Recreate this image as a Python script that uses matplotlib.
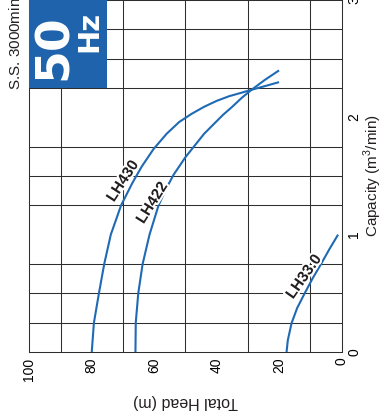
import matplotlib
matplotlib.use("Agg")
import matplotlib.pyplot as plt
import matplotlib.patheffects as pe
from matplotlib.patches import Rectangle
import numpy as np

plt.rcParams['font.family'] = ['Liberation Sans', 'DejaVu Sans']
plt.rcParams['mathtext.fontset'] = 'custom'
plt.rcParams['mathtext.rm'] = 'Liberation Sans'

# ---- data (head in m, capacity in m3/min) ----
lh430_head = [80.0, 79.3, 77.7, 76.0, 73.9, 70.6, 67.0, 64.0, 60.2, 56.0, 52.0, 48.0, 44.0, 40.0, 36.0, 32.0, 28.8, 24.0, 20.0]
lh430_cap  = [0.00, 0.25, 0.50, 0.75, 1.00, 1.25, 1.44, 1.58, 1.73, 1.86, 1.96, 2.03, 2.09, 2.14, 2.18, 2.21, 2.235, 2.27, 2.30]
lh422_head = [66.0, 65.9, 65.1, 63.7, 61.5, 58.6, 56.0, 53.8, 50.0, 47.0, 44.0, 41.0, 38.0, 35.0, 32.0, 28.8, 24.5, 20.0]
lh422_cap  = [0.00, 0.25, 0.50, 0.75, 1.00, 1.25, 1.40, 1.51, 1.66, 1.76, 1.86, 1.94, 2.02, 2.09, 2.165, 2.235, 2.32, 2.40]
lh33_head  = [17.6, 17.2, 16.0, 14.2, 11.8, 9.2, 6.4, 3.8, 1.1]
lh33_cap   = [0.00, 0.10, 0.245, 0.375, 0.50, 0.63, 0.757, 0.88, 1.00]

head_ticks = [100, 80, 60, 40, 20, 0]
cap_ticks = [0, 1, 2, 3]
curve_names = ["LH430", "LH422", "LH33.0"]

W, H = 381, 417
fig = plt.figure(figsize=(W / 100, H / 100), dpi=100)
ax = fig.add_axes([29.3 / W, 65 / H, (341.5 - 29.3) / W, 352 / H])

ax.set_xlim(100, 0)
ax.set_ylim(0, 3)

gridc = '#2e2e2e'
ax.set_xticks(np.arange(0, 101, 10), minor=True)
ax.set_yticks(np.arange(0, 3.01, 0.25), minor=True)
ax.grid(which='minor', color=gridc, linewidth=0.75)
ax.set_xticks(head_ticks)
ax.set_xticklabels([str(v) for v in head_ticks], rotation=90, fontsize=10)
ax.set_yticks(cap_ticks)
ax.set_yticklabels([str(v) for v in cap_ticks], rotation=90, fontsize=10, va='center')
ax.yaxis.tick_right()
ax.tick_params(which='both', length=0)
ax.tick_params(axis='x', pad=4)
ax.tick_params(axis='y', pad=4)
for s in ax.spines.values():
    s.set_color(gridc)
    s.set_linewidth(0.75)

blue = '#1f6ab4'
for hx, cy in [(lh430_head, lh430_cap), (lh422_head, lh422_cap), (lh33_head, lh33_cap)]:
    ax.plot(hx, cy, color=blue, lw=1.5, solid_capstyle='butt', solid_joinstyle='round')

halo = [pe.withStroke(linewidth=3, foreground='white')]
lab_kw = dict(fontsize=11, fontweight='bold', color='#231f20', ha='center', va='center',
              rotation_mode='anchor', path_effects=halo)
ax.text(70.0, 1.455, curve_names[0], rotation=57, **lab_kw)
ax.text(60.6, 1.27, curve_names[1], rotation=58, **lab_kw)
ax.text(12.0, 0.64, curve_names[2], rotation=55, **lab_kw)

fig.text(185 / W, 1 - 402 / H, 'Total Head (m)', rotation=180, fontsize=11.5,
         ha='center', va='center', color='#231f20')
fig.text(373 / W, 1 - 176 / H, 'Capacity (m$^3$/min)', rotation=90, fontsize=11,
         ha='center', va='center', color='#231f20')

# 50 Hz badge
boxc = '#1e63ac'
ax.add_patch(Rectangle((75, 2.25), 25, 0.75, facecolor=boxc, edgecolor='none', zorder=5))
ax.text(91.9, 2.60, '50', rotation=90, color='white', fontsize=34, fontweight='bold',
        family='DejaVu Sans', ha='center', va='center', zorder=6)
ax.text(80.9, 2.73, 'Hz', rotation=90, color='white', fontsize=21, fontweight='bold',
        family='DejaVu Sans', ha='center', va='center', zorder=6)

fig.text(14 / W, 1 - 90 / H, 'S.S. 3000min$^{-1}$', rotation=90, fontsize=11,
         ha='center', va='bottom', color='#231f20')

fig.savefig('out.png', dpi=100)
